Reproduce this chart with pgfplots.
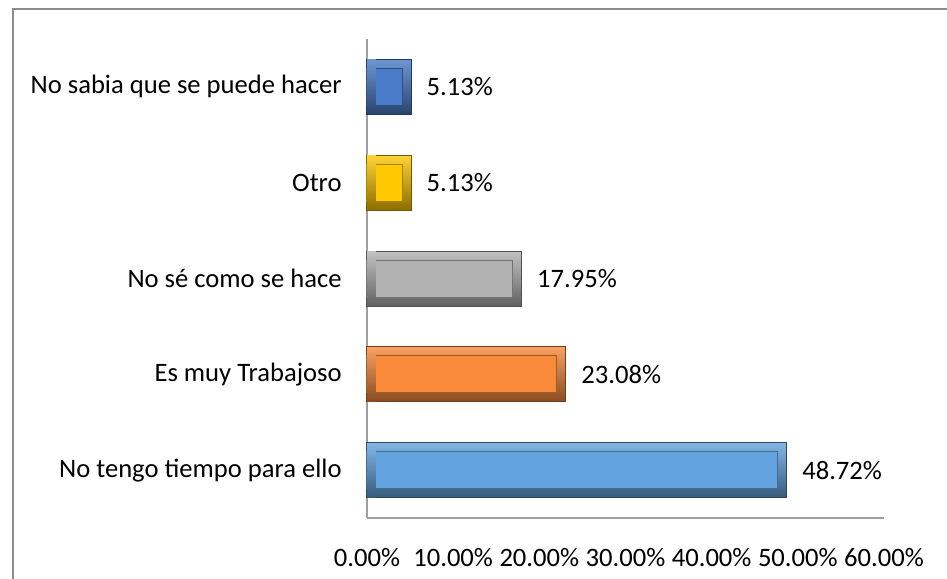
\documentclass[border=0pt]{standalone}
\usepackage{pgfplots}
\pgfplotsset{compat=1.18}
\usepackage{fontspec}
\setmainfont{Carlito}

\definecolor{cBlue}{HTML}{4A7BC8}
\definecolor{cYel}{HTML}{FFC800}
\definecolor{cGray}{HTML}{B2B2B2}
\definecolor{cOrg}{HTML}{F88A3A}
\definecolor{cLb}{HTML}{63A4E0}
\definecolor{frame}{HTML}{8C8C8C}

% outer bevelled bar, inner face, left cap
\pgfplotsset{
  outerbar/.style={draw=#1!45!black, line width=0.5pt, bar width=27.5pt,
    top color=#1!80!white, bottom color=#1!55!black,
    point meta=x,
    nodes near coords={\pgfmathprintnumber[fixed,fixed zerofill,precision=2]{\pgfplotspointmeta}\%},
    nodes near coords style={anchor=west, inner sep=0pt, xshift=7.5pt, text=black,
      font=\fontsize{13.3}{15}\selectfont}},
  facebar/.style={fill=#1, draw=#1!65!black, line width=0.5pt, bar width=18.5pt},
  capbar/.style={draw=none, bar width=27pt,
    top color=#1!80!white, bottom color=#1!55!black},
}

\begin{document}
\begin{tikzpicture}
\begin{axis}[
    xbar, bar shift=0pt,
    scale only axis, width=258.5pt, height=239.5pt,
    xmin=0, xmax=60, ymin=-0.5, ymax=4.5,
    axis lines*=left,
    axis line style={-, draw=gray!75, line width=0.6pt},
    major tick length=0pt,
    xtick={0,10,...,60},
    xticklabel={\pgfmathprintnumber[fixed,fixed zerofill,precision=2]{\tick}\%},
    xticklabel style={anchor=center, yshift=-20pt},
    ytick={0,1,2,3,4},
    yticklabels={No tengo tiempo para ello, Es muy Trabajoso, No sé como se hace, Otro, No sabia que se puede hacer},
    yticklabel style={anchor=east, inner sep=0pt, xshift=-12.5pt},
    tick label style={font=\fontsize{13.3}{15}\selectfont},
    /pgf/number format/assume math mode=true,
    clip=false,
]
% No sabia que se puede hacer
\addplot[outerbar=cBlue] coordinates {(5.13,4)};
\addplot[facebar=cBlue] coordinates {(4.09,4)};
\addplot[capbar=cBlue] coordinates {(1.04,4)};
% Otro
\addplot[outerbar=cYel] coordinates {(5.13,3)};
\addplot[facebar=cYel] coordinates {(4.09,3)};
\addplot[capbar=cYel] coordinates {(1.04,3)};
% No sé como se hace
\addplot[outerbar=cGray] coordinates {(17.95,2)};
\addplot[facebar=cGray] coordinates {(16.91,2)};
\addplot[capbar=cGray] coordinates {(1.04,2)};
% Es muy Trabajoso
\addplot[outerbar=cOrg] coordinates {(23.08,1)};
\addplot[facebar=cOrg] coordinates {(22.04,1)};
\addplot[capbar=cOrg] coordinates {(1.04,1)};
% No tengo tiempo para ello
\addplot[outerbar=cLb] coordinates {(48.72,0)};
\addplot[facebar=cLb] coordinates {(47.68,0)};
\addplot[capbar=cLb] coordinates {(1.04,0)};
\end{axis}
\draw[frame, line width=0.75pt] (-177pt,-40pt) -- (-177pt,254.5pt) -- (300pt,254.5pt);
\pgfresetboundingbox
\path[use as bounding box] (-183.5pt,-30pt) rectangle (290pt,259pt);
\end{tikzpicture}
\end{document}
